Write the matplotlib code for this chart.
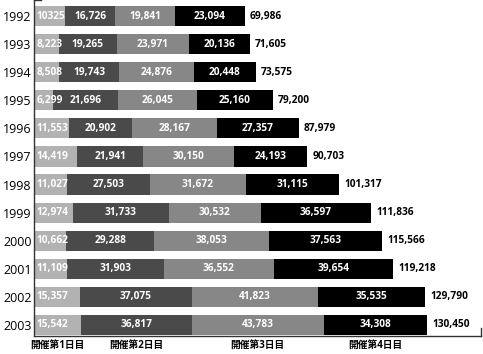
# horizontal stacked bars: visitors per day of the event, 1992-2003

import numpy as np
import matplotlib
matplotlib.use('Agg')
import matplotlib.pyplot as plt

plt.rcParams['font.family'] = ['Open Sans', 'Noto Sans CJK JP', 'DejaVu Sans']

years = ['1992', '1993', '1994', '1995', '1996', '1997', '1998', '1999',
         '2000', '2001', '2002', '2003']
day1 = [10325, 8223, 8508, 6299, 11553, 14419, 11027, 12974, 10662, 11109, 15357, 15542]
day2 = [16726, 19265, 19743, 21696, 20902, 21941, 27503, 31733, 29288, 31903, 37075, 36817]
day3 = [19841, 23971, 24876, 26045, 28167, 30150, 31672, 30532, 38053, 36552, 41823, 43783]
day4 = [23094, 20136, 20448, 25160, 27357, 24193, 31115, 36597, 37563, 39654, 35535, 34308]
totals = [69986, 71605, 73575, 79200, 87979, 90703, 101317, 111836, 115566, 119218, 129790, 130450]
day_names = ['開催第1日目', '開催第2日目', '開催第3日目', '開催第4日目']

colors = ['#b2b2b2', '#4a4a4a', '#878787', '#000000']
series = [day1, day2, day3, day4]

fig = plt.figure(figsize=(4.83, 3.54), dpi=100)
ax = fig.add_axes([0.070, 0.051, 0.926, 0.949])

y = np.arange(len(years))
left = np.zeros(len(years))
for k, vals in enumerate(series):
    vals = np.array(vals, dtype=float)
    ax.barh(y, vals, left=left, height=0.72, color=colors[k],
            edgecolor='none')
    for i, v in enumerate(vals):
        if k == 0:
            ax.annotate(f'{int(v):,}' if v != 10325 else '10325',
                        (left[i], y[i]), xytext=(2, 0),
                        textcoords='offset points', ha='left', va='center',
                        color='white', fontsize=7.3, fontweight='bold')
        else:
            ax.text(left[i] + v / 2, y[i], f'{int(v):,}', ha='center',
                    va='center', color='white', fontsize=7.3,
                    fontweight='bold')
    left += vals

for i, t in enumerate(totals):
    ax.annotate(f'{t:,}', (left[i], y[i]), xytext=(3.5, 0),
                textcoords='offset points', ha='left', va='center',
                color='black', fontsize=7.3, fontweight='bold')

ax.set_xlim(0, 148300)
ax.set_ylim(11.39, -0.57)

ax.set_yticks(y)
ax.set_yticklabels(years, fontsize=9)
ax.tick_params(axis='y', length=0, pad=1.5)

# day labels centred under the 2003 segments
last = np.array([s[-1] for s in series], dtype=float)
mids = np.cumsum(last) - last / 2
ax.set_xticks(mids)
ax.set_xticklabels(day_names, fontsize=7, fontweight='bold')
ax.tick_params(axis='x', length=0, pad=3)

for s in ['top', 'right']:
    ax.spines[s].set_visible(False)
for s in ['left', 'bottom']:
    ax.spines[s].set_color('#333333')
    ax.spines[s].set_linewidth(1.0)

# small end ticks on the axes
ax.axvline(148300, ymin=0, ymax=0.025, color='#333333', linewidth=1.0,
           clip_on=False)
ax.axhline(-0.57, xmin=0, xmax=0.015, color='#333333', linewidth=1.0,
           clip_on=False)

plt.savefig('out.png', dpi=100)
